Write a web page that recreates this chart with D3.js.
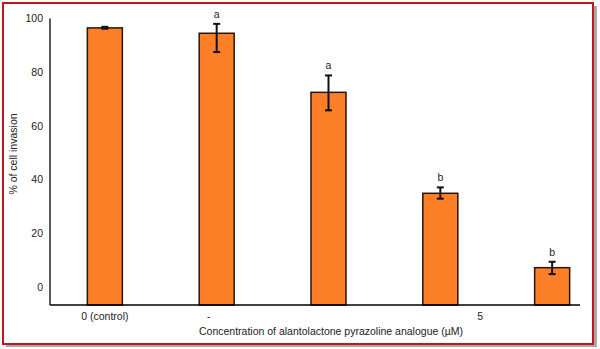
<!DOCTYPE html>
<html><head><meta charset="utf-8">
<script src="https://cdn.jsdelivr.net/npm/d3@7"></script>
<style>body{margin:0;background:#fff}svg{display:block}text{font-family:"Liberation Sans",Arial,sans-serif;fill:#222}</style>
</head><body>
<script>
const categories = ["c0","c1","c2","c3","c4"];
const values = [96.5, 94.5, 72.5, 34.9, 7.2];
const errHigh = [96.9, 98.0, 78.8, 37.1, 9.4];
const errLow = [96.2, 87.5, 65.8, 32.9, 4.8];
const letters = ["", "a", "a", "b", "b"];
const tickLabels = ["0 (control)", "-", "", "", "5"];
const yTicks = [0, 20, 40, 60, 80, 100];
const xTitle = "Concentration of alantolactone pyrazoline analogue (µM)";
const yTitle = "% of cell invasion";

const W = 600, H = 349;
const svg = d3.select("body").append("svg").attr("width", W).attr("height", H);

// frame
svg.append("rect").attr("x", 6).attr("y", 6).attr("width", 591).attr("height", 341).attr("fill", "#a8a8a8");
svg.append("rect").attr("x", 3).attr("y", 3).attr("width", 590).attr("height", 341).attr("fill", "#fff")
  .attr("stroke", "#c0161c").attr("stroke-width", 2);

const y = d3.scaleLinear().domain([-6.7, 100]).range([305, 18.5]);
const x = d3.scaleBand().domain(categories).range([49, 608]).paddingInner(0.687).paddingOuter(0.343);

// bars
svg.selectAll("rect.bar").data(values).join("rect").attr("class", "bar")
  .attr("x", (d, i) => x(categories[i])).attr("width", x.bandwidth())
  .attr("y", d => y(d)).attr("height", d => y(-6.7) - y(d))
  .attr("fill", "#fd7f28").attr("stroke", "#2a1208").attr("stroke-width", 1.5);

// axes lines
svg.append("line").attr("x1", 50).attr("x2", 50).attr("y1", y(100)).attr("y2", y(-6.7)).attr("stroke", "#000").attr("stroke-width", 1.3);
svg.append("line").attr("x1", 50).attr("x2", 580).attr("y1", y(-6.7)).attr("y2", y(-6.7)).attr("stroke", "#000").attr("stroke-width", 1.3);

// y tick labels
svg.selectAll("text.yt").data(yTicks).join("text").attr("class", "yt")
  .attr("x", 43).attr("y", d => y(d)).attr("dy", "0.35em").attr("text-anchor", "end")
  .attr("font-size", 10.5).text(d => d);

// error bars
const eb = svg.selectAll("g.eb").data(values).join("g").attr("class", "eb");
eb.append("line").attr("x1", (d, i) => x(categories[i]) + x.bandwidth() / 2).attr("x2", (d, i) => x(categories[i]) + x.bandwidth() / 2)
  .attr("y1", (d, i) => y(errHigh[i])).attr("y2", (d, i) => y(errLow[i])).attr("stroke", "#111").attr("stroke-width", 2);
[errHigh, errLow].forEach(arr => {
  eb.append("line").attr("x1", (d, i) => x(categories[i]) + x.bandwidth() / 2 - 3.5).attr("x2", (d, i) => x(categories[i]) + x.bandwidth() / 2 + 3.5)
    .attr("y1", (d, i) => y(arr[i])).attr("y2", (d, i) => y(arr[i])).attr("stroke", "#111").attr("stroke-width", 2);
});

// letters
svg.selectAll("text.let").data(letters).join("text").attr("class", "let")
  .attr("x", (d, i) => x(categories[i]) + x.bandwidth() / 2).attr("y", (d, i) => y(errHigh[i]) - 6)
  .attr("text-anchor", "middle").attr("font-size", 10.5).text(d => d);

// x tick labels
const xOffsets = [0, -8, 0, 0, -72];
svg.selectAll("text.xt").data(tickLabels).join("text").attr("class", "xt")
  .attr("x", (d, i) => x(categories[i]) + x.bandwidth() / 2 + xOffsets[i]).attr("y", 320)
  .attr("text-anchor", "middle").attr("font-size", 10.5).text(d => d);

svg.append("text").attr("x", 331).attr("y", 335).attr("text-anchor", "middle").attr("font-size", 10.5).text(xTitle);
svg.append("text").attr("transform", "translate(17,154) rotate(-90)").attr("text-anchor", "middle").attr("font-size", 10.5).text(yTitle);
</script>
</body></html>
